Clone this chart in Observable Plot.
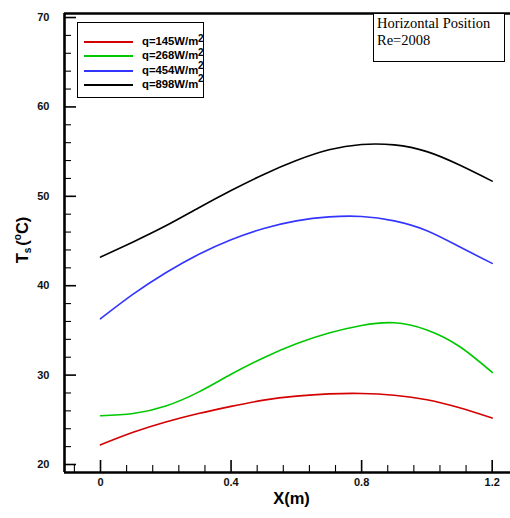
<!DOCTYPE html>
<html><head><meta charset="utf-8">
<script src="https://cdn.jsdelivr.net/npm/d3@7"></script>
<script src="https://cdn.jsdelivr.net/npm/@observablehq/plot@0.6"></script>
<style>
body{margin:0;background:#fff;overflow:hidden}
#wrap{position:relative;width:510px;height:518px;font-family:"Liberation Sans",Arial,sans-serif}
#legend{position:absolute;left:77px;top:22px;width:127px;height:76px;border:1.3px solid #000;box-sizing:border-box;background:#fff}
.row{position:absolute;left:0;height:14px}
.sw{position:absolute;left:6px;width:49px;height:1.7px}
.lt{position:absolute;left:64px;font-weight:bold;font-size:11.3px;line-height:12px;white-space:nowrap}
.sp{position:absolute;font-weight:bold;font-size:10px;line-height:10px}
#note{position:absolute;left:373px;top:13px;width:132px;height:49px;border:1.5px solid #000;box-sizing:border-box;background:#fff;font-family:"Liberation Serif","Times New Roman",serif;font-size:14.5px;line-height:17px;padding:1px 0 0 3px}
</style></head><body><div id="wrap"></div>
<script>
const xPos = [0, 0.1, 0.2, 0.3, 0.4, 0.5, 0.6, 0.7, 0.8, 0.9, 1.0, 1.1, 1.2];
const q145 = [22.2, 23.6, 24.75, 25.7, 26.5, 27.2, 27.65, 27.9, 27.95, 27.75, 27.25, 26.35, 25.2];
const q268 = [25.45, 25.7, 26.55, 28.1, 30.1, 31.95, 33.5, 34.7, 35.55, 35.85, 35.05, 33.2, 30.3];
const q454 = [36.3, 39.05, 41.45, 43.5, 45.15, 46.4, 47.25, 47.7, 47.75, 47.25, 46.15, 44.35, 42.5];
const q898 = [43.2, 44.9, 46.7, 48.7, 50.65, 52.45, 54.0, 55.2, 55.8, 55.75, 55.0, 53.5, 51.7];
const seriesNames = ["q=145W/m", "q=268W/m", "q=454W/m", "q=898W/m"];
const seriesColors = ["#d40000", "#00c800", "#3434ff", "#000000"];
const xTicks = [0, 0.4, 0.8, 1.2];
const xMinor = [-0.08, 0.08, 0.16, 0.24, 0.32, 0.48, 0.56, 0.64, 0.72, 0.88, 0.96, 1.04, 1.12];
const yTicks = [20, 30, 40, 50, 60, 70];
const yMinor = [22, 24, 26, 28, 32, 34, 36, 38, 42, 44, 46, 48, 52, 54, 56, 58, 62, 64, 66, 68];
const xDomain = [-0.1103, 1.2561];
const yDomain = [19.105, 70.45];

const allSeries = [q145, q268, q454, q898];
const rows = [];
allSeries.forEach((vals, i) => vals.forEach((v, j) => rows.push({x: xPos[j], y: v, s: seriesNames[i]})));

const plot = Plot.plot({
  width: 510, height: 518,
  marginLeft: 64, marginRight: 0, marginTop: 13, marginBottom: 46,
  style: {fontFamily: "'Liberation Sans', Arial, sans-serif", background: "#fff"},
  x: {domain: xDomain, axis: null},
  y: {domain: yDomain, axis: null},
  color: {domain: seriesNames, range: seriesColors},
  marks: [
    Plot.line(rows, {x: "x", y: "y", z: "s", stroke: "s", strokeWidth: 1.6, curve: "natural"}),
    Plot.axisX(xTicks, {tickSize: -12, text: null, strokeWidth: 1.6, label: null}),
    Plot.axisX(xMinor, {tickSize: -7, text: null, strokeWidth: 1.1, label: null}),
    Plot.axisX(xTicks, {tickSize: 0, tickPadding: 6, tickFormat: d => String(d), fontWeight: "bold", fontSize: 11, fill: "#111", label: null}),
    Plot.axisY(yTicks, {tickSize: -12, text: null, strokeWidth: 1.6, label: null}),
    Plot.axisY(yMinor, {tickSize: -7, text: null, strokeWidth: 1.1, label: null}),
    Plot.axisY(yTicks, {tickSize: 0, tickPadding: 15, fontWeight: "bold", fontSize: 11, fill: "#111", label: null}),
    Plot.ruleX([xDomain[0]], {stroke: "#000", strokeWidth: 2.6}),
    Plot.ruleY([yDomain[0]], {stroke: "#000", strokeWidth: 2.6}),
    Plot.ruleY([yDomain[1]], {stroke: "#000", strokeWidth: 2.6}),
    Plot.text(["X(m)"], {frameAnchor: "bottom", dx: 4, dy: 31, fontWeight: "bold", fontSize: 16.5, fill: "#000"})
  ]
});

const wrap = document.getElementById("wrap");
wrap.appendChild(plot);

// y-axis title with subscript and superscript
const svg = d3.select(plot);
const t = svg.append("text")
  .attr("transform", "translate(27.5,240) rotate(-90)")
  .attr("text-anchor", "middle")
  .attr("font-family", "'Liberation Sans', Arial, sans-serif")
  .attr("font-weight", "bold")
  .attr("font-size", 16.5)
  .attr("fill", "#000");
t.append("tspan").text("T");
t.append("tspan").attr("font-size", 10).attr("dy", 3.5).text("s");
t.append("tspan").attr("dy", -3.5).attr("dx", 2).text("(");
t.append("tspan").attr("font-size", 10).attr("dy", -7).text("o");
t.append("tspan").attr("dy", 7).text("C");
t.append("tspan").text(")");

// legend
const legend = document.createElement("div");
legend.id = "legend";
const supOffsets = [-10, -10, -12, -13];
seriesNames.forEach((name, i) => {
  const rowTop = [12, 26, 41, 55][i];
  const r = document.createElement("div");
  r.className = "row";
  r.style.top = rowTop + "px";
  const sw = document.createElement("div");
  sw.className = "sw";
  sw.style.background = seriesColors[i];
  sw.style.top = "6px";
  r.appendChild(sw);
  const lt = document.createElement("div");
  lt.className = "lt";
  lt.textContent = name;
  lt.style.top = "0px";
  r.appendChild(lt);
  const sp = document.createElement("div");
  sp.className = "sp";
  sp.textContent = "2";
  sp.style.left = "120px";
  sp.style.top = (supOffsets[i] + 9) + "px";
  r.appendChild(sp);
  legend.appendChild(r);
});
wrap.appendChild(legend);

const note = document.createElement("div");
note.id = "note";
note.innerHTML = "Horizontal Position<br>Re=2008";
wrap.appendChild(note);
</script>
</body></html>
